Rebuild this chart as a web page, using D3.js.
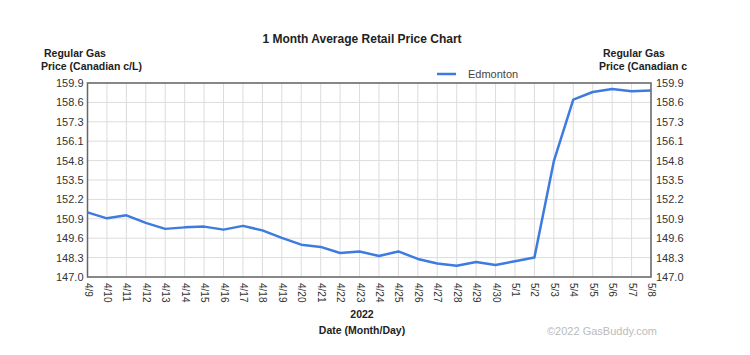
<!DOCTYPE html>
<html><head><meta charset="utf-8">
<script src="https://cdn.jsdelivr.net/npm/d3@7"></script>
<style>body{margin:0;background:#fff}svg{display:block;font-family:"Liberation Sans",Arial,sans-serif}</style>
</head><body>
<svg id="c" width="750" height="355"></svg>
<script>
const dates = ["4/9","4/10","4/11","4/12","4/13","4/14","4/15","4/16","4/17","4/18","4/19","4/20","4/21","4/22","4/23","4/24","4/25","4/26","4/27","4/28","4/29","4/30","5/1","5/2","5/3","5/4","5/5","5/6","5/7","5/8"];
const edmonton = [151.3,150.9,151.1,150.6,150.2,150.3,150.35,150.15,150.4,150.1,149.6,149.15,149.0,148.6,148.7,148.4,148.7,148.2,147.9,147.75,148.0,147.8,148.05,148.3,154.7,158.8,159.3,159.5,159.35,159.4];
const yTickLabels = ["147.0","148.3","149.6","150.9","152.2","153.5","154.8","156.1","157.3","158.6","159.9"];
const yMin = 147.0, yMax = 159.9;

const svg = d3.select("#c");
const L = 87.5, R = 651, T = 83, B = 277;
const x = d3.scalePoint().domain(dates).range([L, R]);
const y = d3.scaleLinear().domain([yMin, yMax]).range([B, T]);
const tickVals = yTickLabels.map((_, i) => yMin + i * (yMax - yMin) / (yTickLabels.length - 1));

// grid
svg.append("g").selectAll("line").data(dates).join("line")
  .attr("x1", d => x(d)).attr("x2", d => x(d)).attr("y1", T).attr("y2", B)
  .attr("stroke", "#dcdcdc").attr("stroke-width", 1);
svg.append("g").selectAll("line").data(tickVals).join("line")
  .attr("x1", L).attr("x2", R).attr("y1", d => y(d)).attr("y2", d => y(d))
  .attr("stroke", "#dcdcdc").attr("stroke-width", 1);

// border
svg.append("rect").attr("x", L).attr("y", T).attr("width", R - L).attr("height", B - T)
  .attr("fill", "none").attr("stroke", "#666").attr("stroke-width", 1.5);

// y axes
const fmt = (d, i) => yTickLabels[i];
const yl = svg.append("g").attr("transform", `translate(${L},0)`)
  .call(d3.axisLeft(y).tickValues(tickVals).tickFormat(fmt).tickSize(0).tickPadding(4));
const yr = svg.append("g").attr("transform", `translate(${R},0)`)
  .call(d3.axisRight(y).tickValues(tickVals).tickFormat(fmt).tickSize(0).tickPadding(5));
[yl, yr].forEach(g => {
  g.select(".domain").remove();
  g.selectAll("text").attr("font-size", 11).attr("fill", "#333").attr("font-family", "Liberation Sans, Arial, sans-serif");
});

// x axis
const xa = svg.append("g").attr("transform", `translate(0,${B})`)
  .call(d3.axisBottom(x).tickSize(0).tickPadding(0));
xa.select(".domain").remove();
xa.selectAll("text")
  .attr("font-size", 10).attr("fill", "#333").attr("font-family", "Liberation Sans, Arial, sans-serif")
  .attr("text-anchor", "start").attr("dy", null).attr("y", null)
  .attr("transform", "translate(-3.5,6) rotate(90)");

// line
svg.append("path").datum(edmonton)
  .attr("fill", "none").attr("stroke", "#3d7be0").attr("stroke-width", 2.5).attr("stroke-linejoin", "round")
  .attr("d", d3.line().x((d, i) => x(dates[i])).y(d => y(d)));

// title
svg.append("text").attr("x", 362).attr("y", 43).attr("text-anchor", "middle")
  .attr("font-size", 12).attr("font-weight", "bold").attr("fill", "#222")
  .text("1 Month Average Retail Price Chart");

// axis titles
const at = (xx, yy, t, anchor) => svg.append("text").attr("x", xx).attr("y", yy)
  .attr("text-anchor", anchor || "start").attr("font-size", 10.5).attr("font-weight", "bold").attr("fill", "#222").text(t);
at(44, 57, "Regular Gas");
at(41, 69.5, "Price (Canadian c/L)");
at(603, 57, "Regular Gas");
at(599, 69.5, "Price (Canadian c");
at(362, 318, "2022", "middle");
at(362, 334, "Date (Month/Day)", "middle");

// legend
svg.append("line").attr("x1", 437).attr("x2", 456).attr("y1", 74).attr("y2", 74)
  .attr("stroke", "#3d7be0").attr("stroke-width", 2.5);
svg.append("text").attr("x", 468).attr("y", 78).attr("font-size", 11).attr("fill", "#444").text("Edmonton");

// watermark
svg.append("text").attr("x", 547).attr("y", 335).attr("font-size", 11).attr("fill", "#bbb").text("©2022 GasBuddy.com");
</script>
</body></html>
